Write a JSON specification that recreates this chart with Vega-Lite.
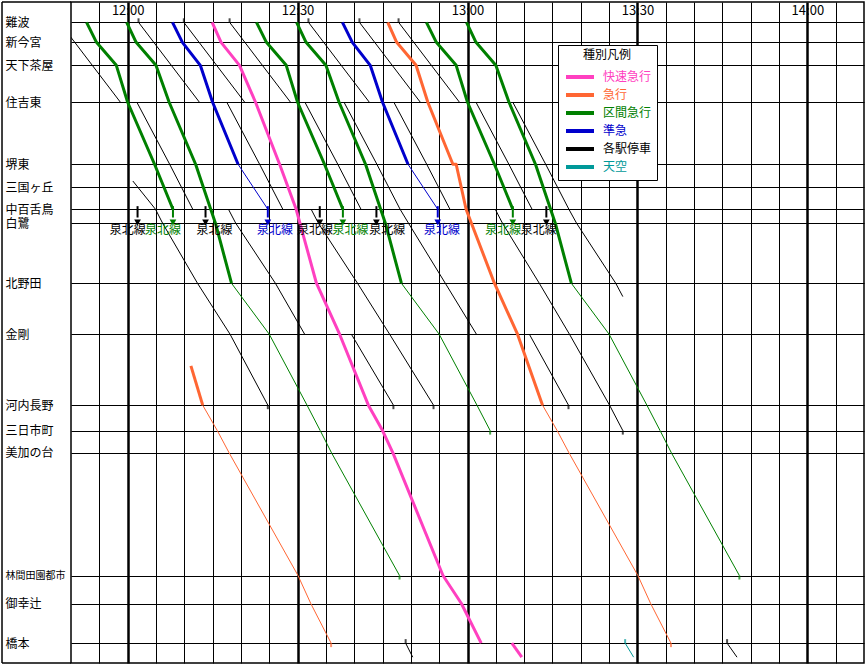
{
  "$schema": "https://vega.github.io/schema/vega-lite/v6.json",
  "width": 793,
  "height": 661,
  "autosize": {"type": "none"},
  "padding": {"left": 71, "top": 2, "right": 4, "bottom": 4},
  "background": "white",
  "config": {
    "view": {"stroke": "black", "strokeWidth": 1.5},
    "font": "Noto Sans CJK JP"
  },
  "encoding": {
    "x": {
      "field": "t", "type": "quantitative",
      "scale": {"domain": [710, 850], "nice": false, "zero": false},
      "axis": {
        "orient": "top", "title": null,
        "values": [715, 720, 725, 730, 735, 740, 745, 750, 755, 760, 765, 770, 775, 780, 785, 790, 795, 800, 805, 810, 815, 820, 825, 830, 835, 840, 845],
        "grid": true, "gridColor": "black", "gridOpacity": 1,
        "gridWidth": {"condition": {"test": "datum.value % 30 == 0", "value": 2.5}, "value": 1},
        "domain": false, "ticks": false, "tickSize": 0,
        "labelExpr": "datum.value % 30 == 0 ? (floor(datum.value / 60) + ':' + (datum.value % 60 == 0 ? '00' : '30')) : ''",
        "labelFont": "Noto Sans CJK JP", "labelFontSize": 13, "labelColor": "black",
        "labelBaseline": "top", "labelPadding": -2, "labelFlush": false, "labelOverlap": false
      }
    },
    "y": {
      "field": "km", "type": "quantitative",
      "scale": {"domain": [-1.43, 45.13], "reverse": true, "nice": false, "zero": false},
      "axis": {
        "title": null,
        "values": [0, 1.41, 3.03, 5.63, 10, 11.62, 13.17, 14.15, 18.38, 21.97, 26.97, 28.76, 30.33, 38.97, 40.94, 43.73],
        "grid": true, "gridColor": "black", "gridOpacity": 1, "gridWidth": 1,
        "domain": false, "ticks": false, "tickSize": 0,
        "labelExpr": "datum.value==0?'難波':datum.value==1.41?'新今宮':datum.value==3.03?'天下茶屋':datum.value==5.63?'住吉東':datum.value==10?'堺東':datum.value==11.62?'三国ヶ丘':datum.value==13.17?'中百舌鳥':datum.value==14.15?'白鷺':datum.value==18.38?'北野田':datum.value==21.97?'金剛':datum.value==26.97?'河内長野':datum.value==28.76?'三日市町':datum.value==30.33?'美加の台':datum.value==38.97?'林間田園都市':datum.value==40.94?'御幸辻':'橋本'",
        "labelAlign": "left", "labelPadding": 66, "labelBaseline": "middle",
        "labelFont": "Noto Sans CJK JP",
        "labelFontSize": {"condition": {"test": "datum.value == 38.97", "value": 10}, "value": 12},
        "labelColor": "black", "labelOverlap": false, "labelFlush": false
      }
    }
  },
  "layer": [
    {
      "data": {"values": [{"t": 697.82, "t2": 710, "km": -1.43}, {"t": 697.82, "t2": 710, "km": 45.13}]},
      "mark": {"type": "rule", "color": "black", "strokeWidth": 1.5, "clip": false},
      "encoding": {
        "x2": {"field": "t2"}
      }
    },
    {
      "data": {"values": [{"t": 697.82, "km": -1.43, "km2": 45.13}]},
      "mark": {"type": "rule", "color": "black", "strokeWidth": 1.5, "clip": false},
      "encoding": {
        "y2": {"field": "km2"}
      }
    },
    {
      "data": {
        "values": [
          {"id": "G1", "type": "区間急行", "run": "優等", "t": 712.75, "km": 0},
          {"id": "G1", "type": "区間急行", "run": "優等", "t": 714.5, "km": 1.41},
          {"id": "G1", "type": "区間急行", "run": "優等", "t": 718, "km": 3.03},
          {"id": "G1", "type": "区間急行", "run": "優等", "t": 720, "km": 5.63},
          {"id": "G1", "type": "区間急行", "run": "優等", "t": 724.75, "km": 10},
          {"id": "G1", "type": "区間急行", "run": "優等", "t": 728, "km": 13.17},
          {"id": "G3", "type": "区間急行", "run": "優等", "t": 742.75, "km": 0},
          {"id": "G3", "type": "区間急行", "run": "優等", "t": 744.5, "km": 1.41},
          {"id": "G3", "type": "区間急行", "run": "優等", "t": 748, "km": 3.03},
          {"id": "G3", "type": "区間急行", "run": "優等", "t": 750, "km": 5.63},
          {"id": "G3", "type": "区間急行", "run": "優等", "t": 754.75, "km": 10},
          {"id": "G3", "type": "区間急行", "run": "優等", "t": 758, "km": 13.17},
          {"id": "G5", "type": "区間急行", "run": "優等", "t": 772.75, "km": 0},
          {"id": "G5", "type": "区間急行", "run": "優等", "t": 774.5, "km": 1.41},
          {"id": "G5", "type": "区間急行", "run": "優等", "t": 778, "km": 3.03},
          {"id": "G5", "type": "区間急行", "run": "優等", "t": 780, "km": 5.63},
          {"id": "G5", "type": "区間急行", "run": "優等", "t": 784.75, "km": 10},
          {"id": "G5", "type": "区間急行", "run": "優等", "t": 788, "km": 13.17},
          {"id": "G2a", "type": "区間急行", "run": "優等", "t": 719.83, "km": 0},
          {"id": "G2a", "type": "区間急行", "run": "優等", "t": 721.5, "km": 1.41},
          {"id": "G2a", "type": "区間急行", "run": "優等", "t": 725, "km": 3.03},
          {"id": "G2a", "type": "区間急行", "run": "優等", "t": 727.33, "km": 5.63},
          {"id": "G2a", "type": "区間急行", "run": "優等", "t": 732, "km": 10},
          {"id": "G2a", "type": "区間急行", "run": "優等", "t": 734.67, "km": 13.17},
          {"id": "G2a", "type": "区間急行", "run": "優等", "t": 735.5, "km": 14.15},
          {"id": "G2a", "type": "区間急行", "run": "優等", "t": 738.33, "km": 18.38},
          {"id": "G2b", "type": "区間急行", "run": "各停", "t": 738.33, "km": 18.38},
          {"id": "G2b", "type": "区間急行", "run": "各停", "t": 745, "km": 21.97},
          {"id": "G2b", "type": "区間急行", "run": "各停", "t": 751.67, "km": 26.97},
          {"id": "G2b", "type": "区間急行", "run": "各停", "t": 754, "km": 28.76},
          {"id": "G2b", "type": "区間急行", "run": "各停", "t": 756, "km": 30.33},
          {"id": "G2b", "type": "区間急行", "run": "各停", "t": 768, "km": 38.97},
          {"id": "G4a", "type": "区間急行", "run": "優等", "t": 749.83, "km": 0},
          {"id": "G4a", "type": "区間急行", "run": "優等", "t": 751.5, "km": 1.41},
          {"id": "G4a", "type": "区間急行", "run": "優等", "t": 755, "km": 3.03},
          {"id": "G4a", "type": "区間急行", "run": "優等", "t": 757.33, "km": 5.63},
          {"id": "G4a", "type": "区間急行", "run": "優等", "t": 762, "km": 10},
          {"id": "G4a", "type": "区間急行", "run": "優等", "t": 764.67, "km": 13.17},
          {"id": "G4a", "type": "区間急行", "run": "優等", "t": 765.5, "km": 14.15},
          {"id": "G4a", "type": "区間急行", "run": "優等", "t": 768.33, "km": 18.38},
          {"id": "G4b", "type": "区間急行", "run": "各停", "t": 768.33, "km": 18.38},
          {"id": "G4b", "type": "区間急行", "run": "各停", "t": 775, "km": 21.97},
          {"id": "G4b", "type": "区間急行", "run": "各停", "t": 781.67, "km": 26.97},
          {"id": "G4b", "type": "区間急行", "run": "各停", "t": 784, "km": 28.76},
          {"id": "G6a", "type": "区間急行", "run": "優等", "t": 779.83, "km": 0},
          {"id": "G6a", "type": "区間急行", "run": "優等", "t": 781.5, "km": 1.41},
          {"id": "G6a", "type": "区間急行", "run": "優等", "t": 785, "km": 3.03},
          {"id": "G6a", "type": "区間急行", "run": "優等", "t": 787.33, "km": 5.63},
          {"id": "G6a", "type": "区間急行", "run": "優等", "t": 792, "km": 10},
          {"id": "G6a", "type": "区間急行", "run": "優等", "t": 794.67, "km": 13.17},
          {"id": "G6a", "type": "区間急行", "run": "優等", "t": 795.5, "km": 14.15},
          {"id": "G6a", "type": "区間急行", "run": "優等", "t": 798.33, "km": 18.38},
          {"id": "G6b", "type": "区間急行", "run": "各停", "t": 798.33, "km": 18.38},
          {"id": "G6b", "type": "区間急行", "run": "各停", "t": 805, "km": 21.97},
          {"id": "G6b", "type": "区間急行", "run": "各停", "t": 811.67, "km": 26.97},
          {"id": "G6b", "type": "区間急行", "run": "各停", "t": 814, "km": 28.76},
          {"id": "G6b", "type": "区間急行", "run": "各停", "t": 816, "km": 30.33},
          {"id": "G6b", "type": "区間急行", "run": "各停", "t": 828, "km": 38.97},
          {"id": "B1a", "type": "準急", "run": "優等", "t": 727.92, "km": 0},
          {"id": "B1a", "type": "準急", "run": "優等", "t": 729.67, "km": 1.41},
          {"id": "B1a", "type": "準急", "run": "優等", "t": 732.83, "km": 3.03},
          {"id": "B1a", "type": "準急", "run": "優等", "t": 735, "km": 5.63},
          {"id": "B1a", "type": "準急", "run": "優等", "t": 739.5, "km": 10},
          {"id": "B1b", "type": "準急", "run": "各停", "t": 739.5, "km": 10},
          {"id": "B1b", "type": "準急", "run": "各停", "t": 744.75, "km": 13.17},
          {"id": "B2a", "type": "準急", "run": "優等", "t": 757.92, "km": 0},
          {"id": "B2a", "type": "準急", "run": "優等", "t": 759.67, "km": 1.41},
          {"id": "B2a", "type": "準急", "run": "優等", "t": 762.83, "km": 3.03},
          {"id": "B2a", "type": "準急", "run": "優等", "t": 765, "km": 5.63},
          {"id": "B2a", "type": "準急", "run": "優等", "t": 769.5, "km": 10},
          {"id": "B2b", "type": "準急", "run": "各停", "t": 769.5, "km": 10},
          {"id": "B2b", "type": "準急", "run": "各停", "t": 774.75, "km": 13.17},
          {"id": "P1a", "type": "快速急行", "run": "優等", "t": 734.92, "km": 0},
          {"id": "P1a", "type": "快速急行", "run": "優等", "t": 736.5, "km": 1.41},
          {"id": "P1a", "type": "快速急行", "run": "優等", "t": 739.75, "km": 3.03},
          {"id": "P1a", "type": "快速急行", "run": "優等", "t": 742.58, "km": 5.63},
          {"id": "P1a", "type": "快速急行", "run": "優等", "t": 746.83, "km": 10},
          {"id": "P1a", "type": "快速急行", "run": "優等", "t": 749.75, "km": 13.17},
          {"id": "P1a", "type": "快速急行", "run": "優等", "t": 753.33, "km": 18.38},
          {"id": "P1a", "type": "快速急行", "run": "優等", "t": 757.42, "km": 21.97},
          {"id": "P1a", "type": "快速急行", "run": "優等", "t": 762.5, "km": 26.97},
          {"id": "P1a", "type": "快速急行", "run": "優等", "t": 765, "km": 28.76},
          {"id": "P1a", "type": "快速急行", "run": "優等", "t": 766.83, "km": 30.33},
          {"id": "P1a", "type": "快速急行", "run": "優等", "t": 775.67, "km": 38.97},
          {"id": "P1a", "type": "快速急行", "run": "優等", "t": 778.92, "km": 40.94},
          {"id": "P1a", "type": "快速急行", "run": "優等", "t": 782.42, "km": 43.73},
          {"id": "P1b", "type": "快速急行", "run": "優等", "t": 787.83, "km": 43.73},
          {"id": "P1b", "type": "快速急行", "run": "優等", "t": 789.58, "km": 44.72},
          {"id": "O0a", "type": "急行", "run": "優等", "t": 731.17, "km": 24.2},
          {"id": "O0a", "type": "急行", "run": "優等", "t": 733.25, "km": 26.97},
          {"id": "O0b", "type": "急行", "run": "各停", "t": 733.25, "km": 26.97},
          {"id": "O0b", "type": "急行", "run": "各停", "t": 735.83, "km": 28.76},
          {"id": "O0b", "type": "急行", "run": "各停", "t": 737.92, "km": 30.33},
          {"id": "O0b", "type": "急行", "run": "各停", "t": 750.08, "km": 38.97},
          {"id": "O0b", "type": "急行", "run": "各停", "t": 752.33, "km": 40.94},
          {"id": "O0b", "type": "急行", "run": "各停", "t": 755.92, "km": 43.73},
          {"id": "O1a", "type": "急行", "run": "優等", "t": 765.92, "km": 0},
          {"id": "O1a", "type": "急行", "run": "優等", "t": 767.5, "km": 1.41},
          {"id": "O1a", "type": "急行", "run": "優等", "t": 770.92, "km": 3.03},
          {"id": "O1a", "type": "急行", "run": "優等", "t": 773, "km": 5.63},
          {"id": "O1a", "type": "急行", "run": "優等", "t": 777.42, "km": 10},
          {"id": "O1a", "type": "急行", "run": "優等", "t": 778, "km": 10},
          {"id": "O1a", "type": "急行", "run": "優等", "t": 779.75, "km": 13.17},
          {"id": "O1a", "type": "急行", "run": "優等", "t": 784.75, "km": 18.38},
          {"id": "O1a", "type": "急行", "run": "優等", "t": 788.83, "km": 21.97},
          {"id": "O1a", "type": "急行", "run": "優等", "t": 793.25, "km": 26.97},
          {"id": "O1b", "type": "急行", "run": "各停", "t": 793.25, "km": 26.97},
          {"id": "O1b", "type": "急行", "run": "各停", "t": 795.83, "km": 28.76},
          {"id": "O1b", "type": "急行", "run": "各停", "t": 797.92, "km": 30.33},
          {"id": "O1b", "type": "急行", "run": "各停", "t": 810.08, "km": 38.97},
          {"id": "O1b", "type": "急行", "run": "各停", "t": 812.33, "km": 40.94},
          {"id": "O1b", "type": "急行", "run": "各停", "t": 815.92, "km": 43.73},
          {"id": "T1", "type": "天空", "run": "各停", "t": 807.83, "km": 43.73},
          {"id": "T1", "type": "天空", "run": "各停", "t": 809.33, "km": 44.72},
          {"id": "K1", "type": "各駅停車", "run": "各停", "t": 769.08, "km": 43.73},
          {"id": "K1", "type": "各駅停車", "run": "各停", "t": 770.33, "km": 44.72},
          {"id": "K2", "type": "各駅停車", "run": "各停", "t": 825.83, "km": 43.73},
          {"id": "K2", "type": "各駅停車", "run": "各停", "t": 827.58, "km": 44.72},
          {"id": "A1", "type": "各駅停車", "run": "各停", "t": 707.97, "km": 0},
          {"id": "A1", "type": "各駅停車", "run": "各停", "t": 718.72, "km": 5.63},
          {"id": "A2", "type": "各駅停車", "run": "各停", "t": 721.63, "km": 5.63},
          {"id": "A2", "type": "各駅停車", "run": "各停", "t": 727.42, "km": 10},
          {"id": "A2", "type": "各駅停車", "run": "各停", "t": 731.5, "km": 13.17},
          {"id": "W", "type": "各駅停車", "run": "各停", "t": 720.92, "km": 11.18},
          {"id": "W", "type": "各駅停車", "run": "各停", "t": 724.92, "km": 13.17},
          {"id": "W", "type": "各駅停車", "run": "各停", "t": 726.17, "km": 14.15},
          {"id": "W", "type": "各駅停車", "run": "各停", "t": 732.33, "km": 18.38},
          {"id": "W", "type": "各駅停車", "run": "各停", "t": 738.08, "km": 21.97},
          {"id": "W", "type": "各駅停車", "run": "各停", "t": 744.75, "km": 26.97},
          {"id": "X1", "type": "各駅停車", "run": "各停", "t": 737.8, "km": 13.17},
          {"id": "X1", "type": "各駅停車", "run": "各停", "t": 739.08, "km": 14.15},
          {"id": "X1", "type": "各駅停車", "run": "各停", "t": 746.08, "km": 18.38},
          {"id": "X1", "type": "各駅停車", "run": "各停", "t": 751.25, "km": 21.97},
          {"id": "X2", "type": "各駅停車", "run": "各停", "t": 759.5, "km": 21.97},
          {"id": "X2", "type": "各駅停車", "run": "各停", "t": 766.92, "km": 26.97},
          {"id": "L1a", "type": "各駅停車", "run": "各停", "t": 721.92, "km": 0},
          {"id": "L1a", "type": "各駅停車", "run": "各停", "t": 732.67, "km": 5.63},
          {"id": "L1b", "type": "各駅停車", "run": "各停", "t": 737.5, "km": 5.63},
          {"id": "L1b", "type": "各駅停車", "run": "各停", "t": 743.3, "km": 10},
          {"id": "L1b", "type": "各駅停車", "run": "各停", "t": 747.4, "km": 13.17},
          {"id": "L1c", "type": "各駅停車", "run": "各停", "t": 752.4, "km": 13.17},
          {"id": "L1c", "type": "各駅停車", "run": "各停", "t": 753.67, "km": 14.15},
          {"id": "L1c", "type": "各駅停車", "run": "各停", "t": 760.58, "km": 18.38},
          {"id": "L1c", "type": "各駅停車", "run": "各停", "t": 766.25, "km": 21.97},
          {"id": "L1c", "type": "各駅停車", "run": "各停", "t": 774, "km": 26.97},
          {"id": "L2a", "type": "各駅停車", "run": "各停", "t": 729.92, "km": 0},
          {"id": "L2a", "type": "各駅停車", "run": "各停", "t": 740.67, "km": 5.63},
          {"id": "L2b", "type": "各駅停車", "run": "各停", "t": 751.3, "km": 5.63},
          {"id": "L2b", "type": "各駅停車", "run": "各停", "t": 757.1, "km": 10},
          {"id": "L2b", "type": "各駅停車", "run": "各停", "t": 761.2, "km": 13.17},
          {"id": "L3a", "type": "各駅停車", "run": "各停", "t": 738, "km": 0},
          {"id": "L3a", "type": "各駅停車", "run": "各停", "t": 748.75, "km": 5.63},
          {"id": "L3b", "type": "各駅停車", "run": "各停", "t": 758.2, "km": 5.63},
          {"id": "L3b", "type": "各駅停車", "run": "各停", "t": 764, "km": 10},
          {"id": "L3b", "type": "各駅停車", "run": "各停", "t": 768.1, "km": 13.17},
          {"id": "L3b", "type": "各駅停車", "run": "各停", "t": 769.58, "km": 14.15},
          {"id": "L3b", "type": "各駅停車", "run": "各停", "t": 776.08, "km": 18.38},
          {"id": "L3b", "type": "各駅停車", "run": "各停", "t": 781.58, "km": 21.97},
          {"id": "L3d", "type": "各駅停車", "run": "各停", "t": 790.92, "km": 21.97},
          {"id": "L3d", "type": "各駅停車", "run": "各停", "t": 797.83, "km": 26.97},
          {"id": "L4a", "type": "各駅停車", "run": "各停", "t": 751.92, "km": 0},
          {"id": "L4a", "type": "各駅停車", "run": "各停", "t": 762.67, "km": 5.63},
          {"id": "L4b", "type": "各駅停車", "run": "各停", "t": 767, "km": 5.63},
          {"id": "L4b", "type": "各駅停車", "run": "各停", "t": 772.8, "km": 10},
          {"id": "L4b", "type": "各駅停車", "run": "各停", "t": 776.9, "km": 13.17},
          {"id": "L4c", "type": "各駅停車", "run": "各停", "t": 784.9, "km": 13.17},
          {"id": "L4c", "type": "各駅停車", "run": "各停", "t": 786.17, "km": 14.15},
          {"id": "L4c", "type": "各駅停車", "run": "各停", "t": 792.67, "km": 18.38},
          {"id": "L4c", "type": "各駅停車", "run": "各停", "t": 798, "km": 21.97},
          {"id": "L4c", "type": "各駅停車", "run": "各停", "t": 805.08, "km": 26.97},
          {"id": "L4c", "type": "各駅停車", "run": "各停", "t": 807.42, "km": 28.76},
          {"id": "L5a", "type": "各駅停車", "run": "各停", "t": 760.92, "km": 0},
          {"id": "L5a", "type": "各駅停車", "run": "各停", "t": 771.67, "km": 5.63},
          {"id": "L5b", "type": "各駅停車", "run": "各停", "t": 781.5, "km": 5.63},
          {"id": "L5b", "type": "各駅停車", "run": "各停", "t": 787.3, "km": 10},
          {"id": "L5b", "type": "各駅停車", "run": "各停", "t": 791.4, "km": 13.17},
          {"id": "L6a", "type": "各駅停車", "run": "各停", "t": 767.83, "km": 0},
          {"id": "L6a", "type": "各駅停車", "run": "各停", "t": 778.58, "km": 5.63},
          {"id": "L6b", "type": "各駅停車", "run": "各停", "t": 788, "km": 5.63},
          {"id": "L6b", "type": "各駅停車", "run": "各停", "t": 793.8, "km": 10},
          {"id": "L6b", "type": "各駅停車", "run": "各停", "t": 797.9, "km": 13.17},
          {"id": "L6b", "type": "各駅停車", "run": "各停", "t": 799.25, "km": 14.15},
          {"id": "L6b", "type": "各駅停車", "run": "各停", "t": 806.17, "km": 18.38},
          {"id": "L6b", "type": "各駅停車", "run": "各停", "t": 807.42, "km": 19.32}
        ]
      },
      "mark": {"type": "line", "clip": true, "strokeJoin": "round"},
      "encoding": {
        "detail": {"field": "id", "type": "nominal"},
        "color": {
          "field": "type", "type": "nominal",
          "scale": {"domain": ["快速急行", "急行", "区間急行", "準急", "各駅停車", "天空"], "range": ["#FF40C0", "#FF6633", "#008000", "#0000CC", "#000000", "#009999"]},
          "legend": {
            "orient": "none", "legendX": 487, "legendY": 43,
            "title": "種別凡例", "titleFont": "Noto Sans CJK JP", "titleFontSize": 12, "titleFontWeight": "normal", "titleColor": "black", "titleAnchor": "middle", "titlePadding": 5,
            "fillColor": "white", "strokeColor": "black", "padding": 5,
            "symbolType": "M-1.75,0H1.75", "symbolSize": 256, "symbolStrokeWidth": 4, "symbolOffset": 7,
            "labelFont": "Noto Sans CJK JP", "labelFontSize": 12, "labelOffset": 13, "rowPadding": -2,
            "encode": {"labels": {"update": {"fill": {"scale": "color", "field": "value"}}}}
          }
        },
        "strokeWidth": {"field": "run", "type": "nominal", "scale": {"domain": ["優等", "各停"], "range": [3, 1]}, "legend": null}
      }
    },
    {
      "data": {
        "values": [
          {"t": 721.92, "km": 0, "type": "各駅停車"},
          {"t": 729.92, "km": 0, "type": "各駅停車"},
          {"t": 738, "km": 0, "type": "各駅停車"},
          {"t": 751.92, "km": 0, "type": "各駅停車"},
          {"t": 760.92, "km": 0, "type": "各駅停車"},
          {"t": 767.83, "km": 0, "type": "各駅停車"},
          {"t": 769.08, "km": 43.73, "type": "各駅停車"},
          {"t": 825.83, "km": 43.73, "type": "各駅停車"},
          {"t": 807.83, "km": 43.73, "type": "天空"}
        ]
      },
      "mark": {"type": "tick", "orient": "vertical", "size": 4, "thickness": 2, "yOffset": -2},
      "encoding": {"color": {"field": "type", "type": "nominal", "legend": null}}
    },
    {
      "data": {
        "values": [
          {"t": 768, "km": 38.97, "type": "区間急行"},
          {"t": 784, "km": 28.76, "type": "区間急行"},
          {"t": 828, "km": 38.97, "type": "区間急行"},
          {"t": 755.92, "km": 43.73, "type": "急行"},
          {"t": 815.92, "km": 43.73, "type": "急行"},
          {"t": 744.75, "km": 26.97, "type": "各駅停車"},
          {"t": 766.92, "km": 26.97, "type": "各駅停車"},
          {"t": 774, "km": 26.97, "type": "各駅停車"},
          {"t": 797.83, "km": 26.97, "type": "各駅停車"},
          {"t": 807.42, "km": 28.76, "type": "各駅停車"}
        ]
      },
      "mark": {"type": "tick", "orient": "vertical", "size": 4, "thickness": 2, "yOffset": 2},
      "encoding": {"color": {"field": "type", "type": "nominal", "legend": null}}
    },
    {
      "data": {
        "values": [
          {"t": 721.75, "type": "各駅停車", "km": 12.95, "km2": 13.75},
          {"t": 728, "type": "区間急行", "km": 12.95, "km2": 13.75},
          {"t": 733.75, "type": "各駅停車", "km": 12.95, "km2": 13.75},
          {"t": 744.75, "type": "準急", "km": 12.95, "km2": 13.75},
          {"t": 753.92, "type": "各駅停車", "km": 12.95, "km2": 13.75},
          {"t": 758, "type": "区間急行", "km": 12.95, "km2": 13.75},
          {"t": 763.92, "type": "各駅停車", "km": 12.95, "km2": 13.75},
          {"t": 774.75, "type": "準急", "km": 12.95, "km2": 13.75},
          {"t": 788, "type": "区間急行", "km": 12.95, "km2": 13.75},
          {"t": 793.92, "type": "各駅停車", "km": 12.95, "km2": 13.75}
        ]
      },
      "layer": [
        {
          "mark": {"type": "rule", "strokeWidth": 2},
          "encoding": {
            "y2": {"field": "km2"},
            "color": {"field": "type", "type": "nominal", "legend": null}
          }
        },
        {
          "mark": {"type": "point", "shape": "triangle-down", "filled": true, "size": 45, "opacity": 1, "yOffset": 5},
          "encoding": {
            "y": {"field": "km2", "type": "quantitative"},
            "color": {"field": "type", "type": "nominal", "legend": null}
          }
        }
      ]
    },
    {
      "data": {
        "values": [
          {"t": 720, "km": 14.63, "type": "各駅停車", "label": "泉北線"},
          {"t": 726.25, "km": 14.63, "type": "区間急行", "label": "泉北線"},
          {"t": 735.33, "km": 14.63, "type": "各駅停車", "label": "泉北線"},
          {"t": 746, "km": 14.63, "type": "準急", "label": "泉北線"},
          {"t": 753.08, "km": 14.63, "type": "各駅停車", "label": "泉北線"},
          {"t": 759.33, "km": 14.63, "type": "区間急行", "label": "泉北線"},
          {"t": 765.83, "km": 14.63, "type": "各駅停車", "label": "泉北線"},
          {"t": 775.5, "km": 14.63, "type": "準急", "label": "泉北線"},
          {"t": 786.33, "km": 14.63, "type": "区間急行", "label": "泉北線"},
          {"t": 792.58, "km": 14.63, "type": "各駅停車", "label": "泉北線"}
        ]
      },
      "mark": {"type": "text", "font": "Noto Sans CJK JP", "fontSize": 12, "baseline": "middle", "align": "center"},
      "encoding": {
        "text": {"field": "label"},
        "color": {"field": "type", "type": "nominal", "legend": null}
      }
    }
  ]
}
